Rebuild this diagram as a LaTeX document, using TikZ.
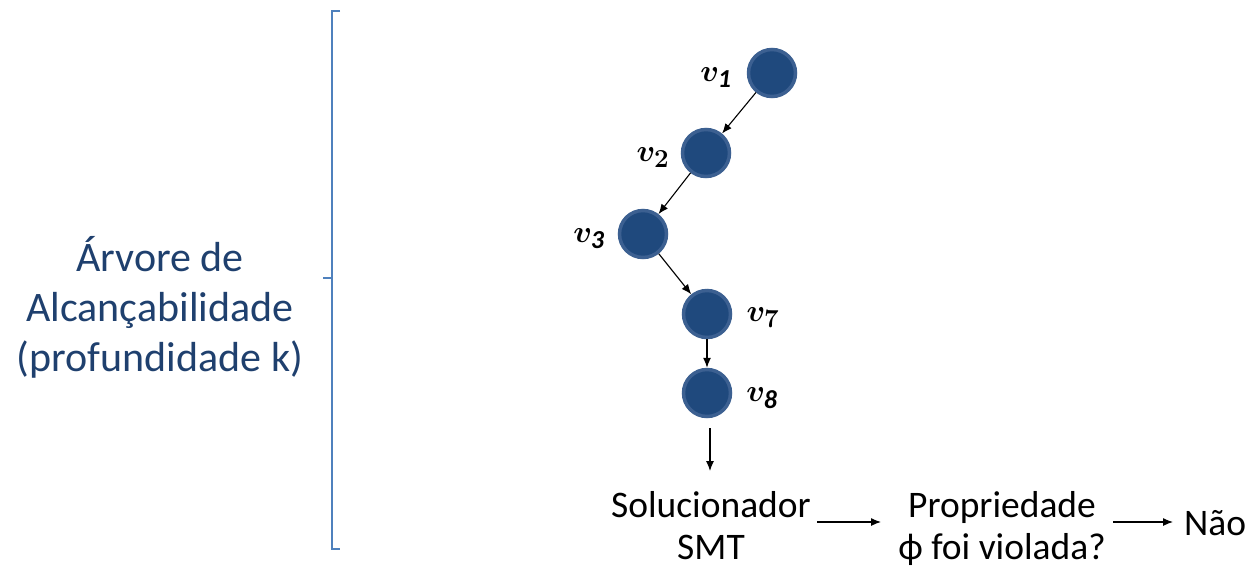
\documentclass[tikz,border=0pt]{standalone}
\usepackage{fontspec}
\usepackage{amsmath}
\usepackage{bm}
\setmainfont{Carlito}
\usetikzlibrary{arrows.meta,calc}
\definecolor{nodefill}{RGB}{31,73,125}
\definecolor{nodeline}{RGB}{60,96,145}
\definecolor{bracketblue}{RGB}{79,129,189}
\definecolor{labelblue}{RGB}{31,64,110}
\newcommand{\vlab}[1]{\scalebox{1.25}{$\bm{#1}$}}
\begin{document}
\begin{tikzpicture}[x=1pt,y=-1pt,
  vnode/.style={circle,fill=nodefill,draw=nodeline,line width=3.5pt,minimum size=47pt,inner sep=0pt},
  vlabel/.style={font=\fontsize{24.88}{30}\selectfont},
  conn/.style={-{Latex[length=10pt,width=8pt]},line width=1.1pt,black},
  txt/.style={font=\fontsize{37.5}{44}\selectfont,align=center,inner sep=0pt,anchor=base}]
\useasboundingbox (0,0) rectangle (1250,566);
% nodes
\node[vnode] (v1) at (772,73) {};
\node[vnode] (v2) at (706,153) {};
\node[vnode] (v3) at (643,234) {};
\node[vnode] (v7) at (707,314) {};
\node[vnode] (v8) at (707,393) {};
% labels
\node[vlabel] (l1) at (716,78) {\vlab{v_{\mathit{1}}}};
\node[vlabel] (l2) at (653,158) {\vlab{v_2}};
\node[vlabel] (l3) at (589,239) {\vlab{v_{\mathit{3}}}};
\node[vlabel] (l7) at (763,318) {\vlab{v_7}};
\node[vlabel] (l8) at (762,398) {\vlab{v_{\mathit{8}}}};
% texts
\node[txt] (smt1) at (711,517) {Solucionador};
\node[txt] (smt2) at (711,559) {SMT};
\node[txt] (prop1) at (1002,517) {Propriedade};
\node[txt] (prop2) at (1002,559) {ϕ foi violada?};
\node[txt,anchor=base west] (nao) at (1184,535) {Não};
\node[txt,anchor=center,text=labelblue,font=\fontsize{42}{50}\selectfont] (arv) at (160,307) {Árvore de\\Alcançabilidade\\(profundidade k)};
% bracket
\coordinate (bt) at (332,11);
\coordinate (bb) at (332,549);
\draw[bracketblue,line width=1.6pt] ($(bt)+(8,0)$) -- (bt) -- (bb) -- ($(bb)+(8,0)$);
\draw[bracketblue,line width=1.6pt] (323,278) -- (332,278);
% connectors
\draw[conn] (v1) -- (v2);
\draw[conn] (v2) -- (v3);
\draw[conn] (v3) -- (v7);
\draw[conn] (v7) -- (v8);
\coordinate (s0) at (710,428);
\coordinate (s1) at (710,471);
\draw[conn] (s0) -- (s1);
\coordinate (a0) at (817,522);
\coordinate (a1) at (881,522);
\draw[conn] (a0) -- (a1);
\coordinate (b0) at (1113,522);
\coordinate (b1) at (1173,522);
\draw[conn] (b0) -- (b1);
\end{tikzpicture}
\end{document}
